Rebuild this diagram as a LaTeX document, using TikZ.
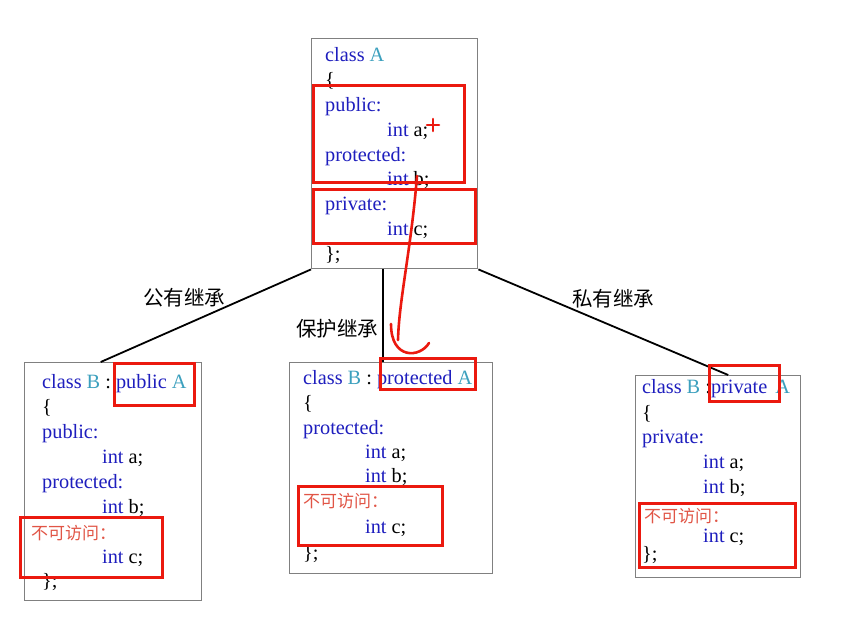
\documentclass[tikz,border=0pt]{standalone}
\usepackage{fontspec}
\setmainfont{Liberation Serif}
\newfontfamily\cjk{Noto Sans CJK SC}
\usetikzlibrary{calc}
\definecolor{kwblue}{RGB}{30,30,190}
\definecolor{idteal}{RGB}{60,160,190}
\definecolor{markred}{RGB}{235,25,15}
\definecolor{noacc}{RGB}{225,85,70}
\definecolor{boxgray}{RGB}{128,128,128}
\newcommand{\kw}[1]{\textcolor{kwblue}{#1}}
\newcommand{\id}[1]{\textcolor{idteal}{#1}}
\begin{document}
\begin{tikzpicture}[x=1pt, y=-1pt]
    % class boxes
    \tikzstyle{clsbox}=[draw=boxgray, line width=1.4pt, anchor=north west, inner sep=0]
    % one line of code
    \tikzstyle{code}=[anchor=base west, inner sep=0, font=\fontsize{20.3}{24}\selectfont]
    % members that cannot be reached
    \tikzstyle{hidden}=[anchor=base west, inner sep=0, text=noacc, font=\cjk\fontsize{17}{20}\selectfont]
    \tikzstyle{link}=[black, line width=1.8pt]
    \tikzstyle{kind}=[inner sep=0, font=\cjk\fontsize{20.5}{23}\selectfont]
    \tikzstyle{redbox}=[draw=markred, line width=3pt]
    \tikzstyle{scrawl}=[markred, line width=2.6pt, line cap=round]
    \fill[white] (0,0) rectangle (850,624);
    \useasboundingbox (0,0) rectangle (850,624);
    % base class A
    \node[clsbox, minimum width=166pt, minimum height=230pt] (boxA) at (311,38) {};
    \node[code] (A0) at (325,61) {\kw{class} \id{A}};
    \node[code] (A1) at (325,86) {\{};
    \node[code] (A2) at (325,111) {\kw{public:}};
    \node[code] (A3) at (387,136) {\kw{int} a;};
    \node[code] (A4) at (325,161) {\kw{protected:}};
    \node[code] (A5) at (387,185) {\kw{int} b;};
    \node[code] (A6) at (325,210) {\kw{private:}};
    \node[code] (A7) at (387,235) {\kw{int} c;};
    \node[code] (A8) at (325,260) {\};};
    % public inheritance
    \node[clsbox, minimum width=177pt, minimum height=238pt] (boxB1) at (24,362) {};
    \node[code] (P0) at (42,388) {\kw{class} \id{B} : \kw{public} \id{A}};
    \node[code] (P1) at (42,413) {\{};
    \node[code] (P2) at (42,438) {\kw{public:}};
    \node[code] (P3) at (102,463) {\kw{int} a;};
    \node[code] (P4) at (42,488) {\kw{protected:}};
    \node[code] (P5) at (102,513) {\kw{int} b;};
    \node[hidden] (P6) at (31,539) {不可访问：};
    \node[code] (P7) at (102,563) {\kw{int} c;};
    \node[code] (P8) at (42,587) {\};};
    % protected inheritance
    \node[clsbox, minimum width=203pt, minimum height=211pt] (boxB2) at (289,362) {};
    \node[code] (Q0) at (303,384) {\kw{class} \id{B} : \kw{protected} \id{A}};
    \node[code] (Q1) at (303,409) {\{};
    \node[code] (Q2) at (303,434) {\kw{protected:}};
    \node[code] (Q3) at (365,458) {\kw{int} a;};
    \node[code] (Q4) at (365,482) {\kw{int} b;};
    \node[hidden] (Q5) at (303,507) {不可访问：};
    \node[code] (Q6) at (365,533) {\kw{int} c;};
    \node[code] (Q7) at (303,559) {\};};
    % private inheritance
    \node[clsbox, minimum width=165pt, minimum height=202pt] (boxB3) at (635,375) {};
    \node[code] (R0) at (642,393) {\kw{class} \id{B} :\kw{private}\hspace{8pt}\id{A}};
    \node[code] (R1) at (642,419) {\{};
    \node[code] (R2) at (642,443) {\kw{private:}};
    \node[code] (R3) at (703,468) {\kw{int} a;};
    \node[code] (R4) at (703,493) {\kw{int} b;};
    \node[hidden] (R5) at (644,522) {不可访问：};
    \node[code] (R6) at (703,542) {\kw{int} c;};
    \node[code] (R7) at (642,560) {\};};
    % inheritance lines
    \coordinate (midA) at ($(boxA.south west)!0.43!(boxA.south east)$);
    \draw[link] (boxA.south west) -- ($(boxB1.north west)!0.43!(boxB1.north east)$);
    \draw[link] (midA) -- (midA |- boxB2.north);
    \draw[link] (boxA.south east) -- ($(boxB3.north west)!0.56!(boxB3.north east)$);
    \node[kind] (pub) at (184,298) {公有继承};
    \node[kind] (pro) at (337,329) {保护继承};
    \node[kind] (pri) at (613,299) {私有继承};
    % red marks
    \draw[redbox] (313,85) rectangle (464,182);
    \draw[redbox] (313,189) rectangle (475,243);
    \draw[redbox] (114,363) rectangle (194,405);
    \draw[redbox] (20,517) rectangle (162,577);
    \draw[redbox] (380,358) rectangle (475,389);
    \draw[redbox] (298,486) rectangle (442,545);
    \draw[redbox] (709,365) rectangle (779,401);
    \draw[redbox] (639,503) rectangle (795,567);
    \draw[scrawl] (427,125) -- (439,125);
    \draw[scrawl] (433,119) -- (433,131);
    \draw[scrawl] (417,176) .. controls (411,250) and (399,300) .. (398,340);
    \draw[scrawl] (391,324) .. controls (391,360) and (420,358) .. (429,343);
\end{tikzpicture}
\end{document}
